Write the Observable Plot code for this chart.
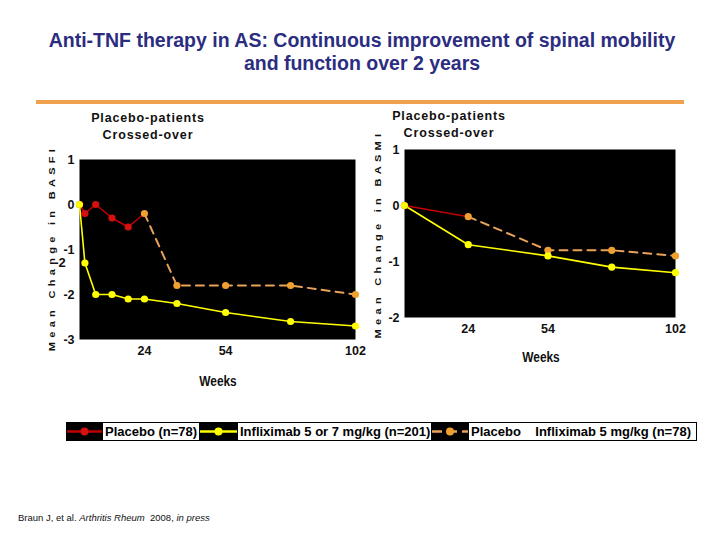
<!DOCTYPE html>
<html>
<head>
<meta charset="utf-8">
<script src="https://cdn.jsdelivr.net/npm/d3@7"></script>
<script src="https://cdn.jsdelivr.net/npm/@observablehq/plot@0.6"></script>
<style>
  html, body { margin: 0; padding: 0; background: #fff; }
  body { width: 720px; height: 540px; position: relative; overflow: hidden; font-family: "Liberation Sans", Arial, sans-serif; }
  .abs { position: absolute; }
  #title { left: 0; width: 724px; top: 29px; text-align: center; color: #2b2d80; font-weight: bold; font-size: 19.5px; line-height: 23px; }
  #rule { left: 36px; top: 100px; width: 648px; height: 4px; background: #f0a14d; }
  .sub { font-weight: bold; font-size: 12.5px; letter-spacing: 0.85px; line-height: 17px; text-align: center; width: 200px; color: #111; }
  .ytitle { font-weight: bold; font-size: 11px; letter-spacing: 4.3px; white-space: nowrap; transform: translate(-50%, -50%) rotate(-90deg) scaleY(0.8); color: #111; }
  .weeks { font-weight: bold; font-size: 14px; transform: translate(-50%, -50%) scaleX(0.85); color: #111; }
  .stray { font-weight: bold; font-size: 13px; transform: translate(-50%, -50%); color: #111; }
  #legend { left: 66px; top: 422px; width: 631px; height: 19px; background: #000; display: flex; align-items: center; }
  #legend .txt { background: #fff; color: #000; font-weight: bold; font-size: 13px; height: 17px; line-height: 17px; white-space: pre; display: block; overflow: hidden; padding-left: 2px; box-sizing: border-box; }
  #legend svg { display: block; flex: none; }
  #foot { left: 18px; top: 512px; font-size: 9.5px; color: #111; white-space: pre; }
</style>
</head>
<body>
<script>
// ---- data ----
const basfiWeeks = [0, 2, 6, 12, 18, 24, 36, 54, 78, 102];
const basfiInfliximab = [0, -1.3, -2.0, -2.0, -2.1, -2.1, -2.2, -2.4, -2.6, -2.7];
const basfiPlaceboWeeks = [0, 2, 6, 12, 18, 24];
const basfiPlacebo = [0, -0.2, 0, -0.3, -0.5, -0.2];
const basfiCrossWeeks = [24, 36, 54, 78, 102];
const basfiCross = [-0.2, -1.8, -1.8, -1.8, -2.0];

const basmiWeeks = [0, 24, 54, 78, 102];
const basmiInfliximab = [0, -0.7, -0.9, -1.1, -1.2];
const basmiPlaceboWeeks = [0, 24];
const basmiPlacebo = [0, -0.2];
const basmiCrossWeeks = [24, 54, 78, 102];
const basmiCross = [-0.2, -0.8, -0.8, -0.9];

const xTicks = [24, 54, 102];
const basfiYTicks = [1, 0, -1, -2, -3];
const basmiYTicks = [1, 0, -1, -2];

const legendLabels = ["Placebo (n=78)", "Infliximab 5 or 7 mg/kg (n=201)", "Placebo    Infliximab 5 mg/kg (n=78)"];
const titleText = ["Anti-TNF therapy in AS: Continuous improvement of spinal mobility", "and function over 2 years"];
const subText = ["Placebo-patients", "Crossed-over"];

// ---- colours ----
const RED = "#d41010", RED_LINE = "#c00000", YEL = "#ffff00", ORA = "#f0a030", ORA_LINE = "#e9a25a";

const zip = (ws, vs) => ws.map((w, i) => ({week: w, value: vs[i]}));

function chart(o) {
  const inf = zip(o.weeks, o.inf);
  const pla = zip(o.plaWeeks, o.pla);
  const cro = zip(o.croWeeks, o.cro);
  return Plot.plot({
    width: o.width, height: o.height,
    marginLeft: o.ml, marginRight: o.mr, marginTop: o.mt, marginBottom: o.mb,
    style: {fontFamily: '"Liberation Sans", Arial, sans-serif', fontSize: "12.5px", fontWeight: "bold", color: "#111", background: "transparent"},
    x: {domain: [0, 102]},
    y: {domain: o.ydomain},
    marks: [
      Plot.frame({fill: "black", stroke: null}),
      Plot.axisX({ticks: xTicks, tickSize: 0, tickPadding: 7, label: null, tickFormat: d => String(d)}),
      Plot.axisY({ticks: o.yticks, tickSize: 0, tickPadding: 5, label: null, tickFormat: d => String(d)}),
      Plot.line(pla, {x: "week", y: "value", stroke: RED_LINE, strokeWidth: 1.6}),
      Plot.line(cro, {x: "week", y: "value", stroke: ORA_LINE, strokeWidth: 2, strokeDasharray: "8,6"}),
      Plot.line(inf, {x: "week", y: "value", stroke: YEL, strokeWidth: 1.6}),
      Plot.dot(pla.slice(0, -1), {x: "week", y: "value", r: 3.6, fill: RED, stroke: null}),
      Plot.dot(cro, {x: "week", y: "value", r: 3.6, fill: ORA, stroke: null}),
      Plot.dot(inf, {x: "week", y: "value", r: 3.6, fill: YEL, stroke: null})
    ]
  });
}

function place(el, left, top) {
  el.style.position = "absolute";
  el.style.left = left + "px";
  el.style.top = top + "px";
  document.body.appendChild(el);
  return el;
}
function div(cls, html, left, top) {
  const d = document.createElement("div");
  d.className = "abs " + cls;
  d.innerHTML = html;
  d.style.left = left + "px";
  d.style.top = top + "px";
  document.body.appendChild(d);
  return d;
}

// title + rule
const t = document.createElement("div");
t.id = "title"; t.className = "abs";
t.innerHTML = titleText.join("<br>");
document.body.appendChild(t);
const r = document.createElement("div");
r.id = "rule"; r.className = "abs";
document.body.appendChild(r);

// charts
place(chart({
  weeks: basfiWeeks, inf: basfiInfliximab, plaWeeks: basfiPlaceboWeeks, pla: basfiPlacebo,
  croWeeks: basfiCrossWeeks, cro: basfiCross, ydomain: [-3, 1], yticks: basfiYTicks,
  width: 370, height: 300, ml: 79, mr: 15, mt: 59, mb: 61
}), 0, 100);
place(chart({
  weeks: basmiWeeks, inf: basmiInfliximab, plaWeeks: basmiPlaceboWeeks, pla: basmiPlacebo,
  croWeeks: basmiCrossWeeks, cro: basmiCross, ydomain: [-2, 1], yticks: basmiYTicks,
  width: 370, height: 300, ml: 64, mr: 35, mt: 49, mb: 83
}), 340, 100);

// subtitles
div("sub", subText.join("<br>"), 48, 110);
div("sub", subText.join("<br>"), 349, 108);

// y titles
div("ytitle", "Mean Change in BASFI", 52, 248);
div("ytitle", "Mean Change in BASMI", 378, 234);
div("stray", "-2", 60, 262);

// weeks
div("weeks", "Weeks", 218, 381);
div("weeks", "Weeks", 541, 357);

// legend
const lg = document.createElement("div");
lg.id = "legend"; lg.className = "abs";
const sw = (w, color, lineColor, dashed) =>
  `<svg width="${w}" height="19"><line x1="1" x2="${w - 1}" y1="9.5" y2="9.5" stroke="${lineColor}" stroke-width="2.4" ${dashed ? 'stroke-dasharray="10,5"' : ""}/><circle cx="${w / 2}" cy="9.5" r="4" fill="${color}"/></svg>`;
const box = (w, s) => `<div class="txt" style="width:${w}px">${s}</div>`;
lg.innerHTML =
  sw(37, RED, RED_LINE, false) + box(96, legendLabels[0]) +
  sw(39, YEL, YEL, false) + box(193, legendLabels[1]) +
  sw(38, ORA, ORA_LINE, true) + box(227, legendLabels[2]);
document.body.appendChild(lg);

// footnote
const f = document.createElement("div");
f.id = "foot"; f.className = "abs";
f.innerHTML = "Braun J, et al. <i>Arthritis Rheum</i>  2008, <i>in press</i>";
document.body.appendChild(f);
</script>
</body>
</html>
